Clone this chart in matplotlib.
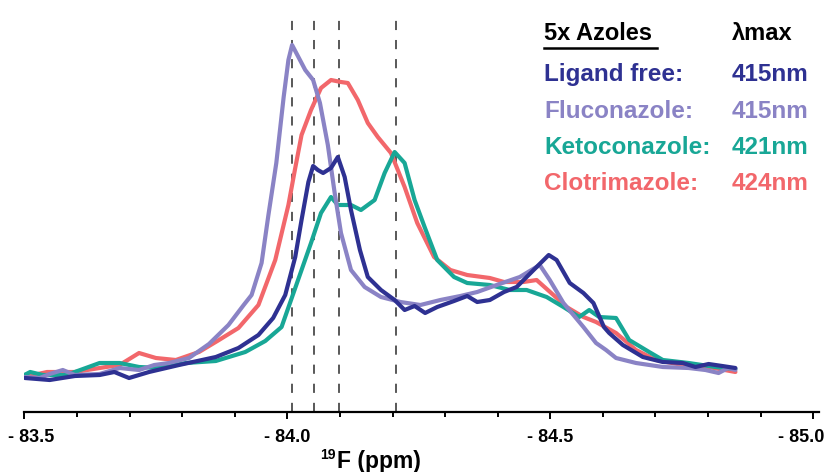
import numpy as np
import matplotlib
matplotlib.use('Agg')
import matplotlib.pyplot as plt
from matplotlib.lines import Line2D
from matplotlib.ticker import MultipleLocator, NullFormatter
from matplotlib.transforms import offset_copy

plt.rcParams['font.family'] = ['Liberation Sans', 'DejaVu Sans']

# 19F chemical shift (ppm) and intensity (arb. units)
free_ppm = [-83.501, -83.548, -83.596, -83.643, -83.671, -83.699, -83.737, -83.794, -83.864, -83.907,
            -83.945, -83.973, -83.996, -84.015, -84.027, -84.040, -84.049, -84.058, -84.068, -84.083,
            -84.096, -84.109, -84.121, -84.138, -84.153, -84.178, -84.204, -84.223, -84.242, -84.262,
            -84.285, -84.317, -84.342, -84.361, -84.385, -84.412, -84.436, -84.474, -84.497, -84.512,
            -84.537, -84.563, -84.582, -84.602, -84.612, -84.638, -84.676, -84.714, -84.752, -84.776,
            -84.801, -84.827, -84.852]
free_int = [2, 0, 4, 5, 8, 2, 8, 15, 23, 32,
            45, 62, 85, 123, 160, 198, 214, 210, 207, 212,
            223, 203, 170, 130, 103, 90, 80, 70, 74, 67,
            73, 79, 84, 78, 80, 88, 93, 113, 125, 120,
            97, 87, 77, 53, 47, 35, 23, 18, 17, 13,
            16, 14, 12]

fluco_ppm = [-83.501, -83.529, -83.548, -83.573, -83.596, -83.643, -83.681, -83.718, -83.747, -83.775,
             -83.813, -83.851, -83.888, -83.917, -83.932, -83.951, -83.964, -83.979, -83.993, -84.002,
             -84.009, -84.021, -84.034, -84.049, -84.062, -84.077, -84.090, -84.102, -84.121, -84.147,
             -84.178, -84.215, -84.253, -84.291, -84.329, -84.361, -84.398, -84.442, -84.480, -84.499,
             -84.525, -84.563, -84.587, -84.606, -84.625, -84.663, -84.714, -84.763, -84.795, -84.820,
             -84.838, -84.852]
fluco_int = [3, 2, 6, 10, 5, 6, 12, 10, 15, 17,
             22, 36, 55, 75, 85, 117, 165, 217, 283, 320,
             335, 323, 310, 300, 277, 235, 187, 147, 110, 93,
             83, 78, 75, 80, 84, 88, 95, 103, 115, 100,
             77, 53, 37, 30, 22, 17, 13, 12, 10, 7,
             12, 10]

keto_ppm = [-83.500, -83.511, -83.535, -83.580, -83.643, -83.681, -83.718, -83.756, -83.807, -83.864,
            -83.920, -83.958, -83.989, -84.007, -84.027, -84.045, -84.064, -84.083, -84.096, -84.121,
            -84.140, -84.166, -84.185, -84.204, -84.223, -84.242, -84.261, -84.285, -84.317, -84.342,
            -84.385, -84.423, -84.455, -84.493, -84.525, -84.555, -84.574, -84.593, -84.625, -84.650,
            -84.688, -84.714, -84.763, -84.814, -84.852]
keto_int = [5, 8, 5, 5, 17, 17, 13, 12, 17, 19,
            28, 39, 53, 80, 110, 137, 167, 183, 175, 175,
            170, 180, 207, 228, 217, 180, 153, 120, 103, 97,
            95, 90, 90, 83, 73, 63, 70, 63, 62, 40,
            28, 20, 17, 13, 11]

clotri_ppm = [-83.500, -83.543, -83.596, -83.643, -83.681, -83.718, -83.750, -83.788, -83.832, -83.870,
              -83.907, -83.945, -83.977, -84.002, -84.015, -84.027, -84.045, -84.064, -84.083, -84.102,
              -84.115, -84.134, -84.153, -84.172, -84.197, -84.223, -84.247, -84.279, -84.310, -84.342,
              -84.385, -84.412, -84.449, -84.474, -84.506, -84.531, -84.563, -84.587, -84.625, -84.663,
              -84.701, -84.752, -84.801, -84.852]
clotri_int = [3, 8, 8, 12, 15, 27, 22, 20, 28, 40,
              52, 75, 120, 175, 212, 245, 270, 292, 300, 298,
              297, 280, 257, 243, 227, 193, 157, 123, 110, 105,
              102, 98, 98, 100, 85, 73, 63, 58, 47, 30,
              20, 15, 13, 8]

shift_ppm = [-84.009, -84.051, -84.098, -84.206]

tick_ppm = [-83.5, -84.0, -84.5, -85.0]
tick_labels = ['- 83.5', '- 84.0', '- 84.5', '- 85.0']

labels = ['Ligand free:', 'Fluconazole:', 'Ketoconazole:', 'Clotrimazole:']
lambda_max = ['415nm', '415nm', '421nm', '424nm']
colors = ['#2e3192', '#8a83c5', '#18a796', '#f2676b']

W, H = 830, 472
fig = plt.figure(figsize=(W / 100, H / 100), dpi=100)
ax = fig.add_axes([24.4 / W, 60 / H, 794.1 / W, 402 / H])

ax.vlines(shift_ppm, -32, 367, colors='#2b2b2b', linewidth=1.1,
          linestyles=(0, (6, 6.5)), zorder=1)

series = [(clotri_ppm, clotri_int, colors[3]),
          (keto_ppm, keto_int, colors[2]),
          (fluco_ppm, fluco_int, colors[1]),
          (free_ppm, free_int, colors[0])]
for xs, ys, c in series:
    ax.plot(xs, ys, color=c, linewidth=3.0, solid_joinstyle='round',
            solid_capstyle='round', zorder=2)

ax.set_xlim(-83.5, -85.01)
ax.set_ylim(-32, 370)
for s in ['left', 'top', 'right']:
    ax.spines[s].set_visible(False)
ax.spines['bottom'].set_linewidth(1.6)
ax.set_yticks([])
ax.set_xticks(tick_ppm)
ax.xaxis.set_minor_locator(MultipleLocator(0.1))
ax.xaxis.set_major_formatter(NullFormatter())
ax.tick_params(axis='x', which='major', length=5, width=1.4, direction='out')
ax.tick_params(axis='x', which='minor', length=3.5, width=1.4, direction='out')

# tick labels, end ones nudged inside the figure as in the original
nudge = [7, 0, 0, -12]
for v, lab, dx in zip(tick_ppm, tick_labels, nudge):
    tr = offset_copy(ax.get_xaxis_transform(), fig=fig, x=dx, y=-26, units='dots')
    ax.text(v, 0, lab, transform=tr, fontsize=13, fontweight='bold',
            ha='center', va='center', clip_on=False)

# axis title
fig.text(336 / W, 1 - 455 / H, '19', fontsize=10, fontweight='bold', ha='right', va='center')
fig.text(337 / W, 1 - 468 / H, 'F (ppm)', fontsize=16.5, fontweight='bold', ha='left', va='baseline')

# legend table
fig.text(544 / W, 1 - 40 / H, '5x Azoles', fontsize=17, fontweight='bold', ha='left', va='baseline')
fig.text(732 / W, 1 - 40 / H, '\u03bbmax', fontsize=17, fontweight='bold', ha='left', va='baseline')
fig.add_artist(Line2D([544 / W, 657 / W], [1 - 48 / H, 1 - 48 / H], color='black', linewidth=1.8))
baselines = [81, 118, 154, 190]
for lab, lm, c, yb in zip(labels, lambda_max, colors, baselines):
    fig.text(544 / W, 1 - yb / H, lab, fontsize=17.5, fontweight='bold', color=c, ha='left', va='baseline')
    fig.text(732 / W, 1 - yb / H, lm, fontsize=17.5, fontweight='bold', color=c, ha='left', va='baseline')

fig.savefig('out.png', dpi=100)
